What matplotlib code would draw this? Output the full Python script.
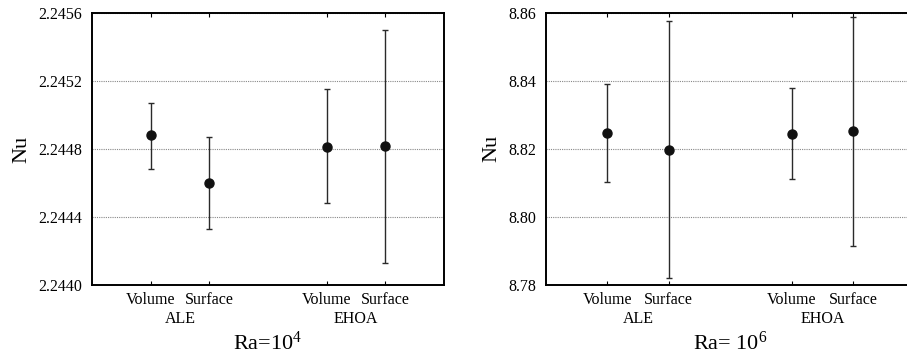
import numpy as np
import matplotlib
matplotlib.use("Agg")
import matplotlib.pyplot as plt
import matplotlib.transforms as mtransforms

plt.rcParams['font.family'] = ['Liberation Serif', 'DejaVu Serif']
plt.rcParams['mathtext.fontset'] = 'custom'
plt.rcParams['mathtext.rm'] = 'Liberation Serif'
plt.rcParams['mathtext.it'] = 'Liberation Serif:italic'

# x positions of the four estimates, two per method
methods = ["ALE", "EHOA"]
estimators = ["Volume", "Surface", "Volume", "Surface"]
xpos = [1, 2, 4, 5]

# Ra = 1e4
nu_ra4 = [2.24488, 2.24460, 2.24481, 2.24482]
lo_ra4 = [2.24468, 2.24433, 2.24448, 2.24413]
hi_ra4 = [2.24507, 2.24487, 2.24515, 2.24550]
yticks_ra4 = [2.2440, 2.2444, 2.2448, 2.2452, 2.2456]

# Ra = 1e6
nu_ra6 = [8.8247, 8.8196, 8.8245, 8.8252]
lo_ra6 = [8.8103, 8.7820, 8.8111, 8.7916]
hi_ra6 = [8.8391, 8.8575, 8.8380, 8.8588]
yticks_ra6 = [8.78, 8.80, 8.82, 8.84, 8.86]

fig = plt.figure(figsize=(9.07, 3.56), dpi=100)
ax1 = fig.add_axes([92 / 907, 1 - 285 / 356, 352 / 907, 272 / 356])
ax2 = fig.add_axes([546 / 907, 1 - 285 / 356, 368.4 / 907, 272.3 / 356])


def panel(ax, nu, lo, hi, yticks, fmt, xlabel):
    nu = np.array(nu)
    err = [nu - np.array(lo), np.array(hi) - nu]
    ax.errorbar(xpos, nu, yerr=err, fmt='o', color='#111111', ecolor='#2a2a2a',
                elinewidth=1.0, capsize=2.5, capthick=1.0, markersize=6.5, zorder=3)
    ax.set_xlim(0, 6)
    ax.set_ylim(yticks[0], yticks[-1])
    ax.set_yticks(yticks)
    ax.set_yticklabels([fmt % v for v in yticks])
    ax.set_xticks(xpos)
    ax.set_xticklabels(estimators)
    ax.tick_params(axis='y', length=0, pad=7, labelsize=11.5)
    ax.tick_params(axis='x', direction='in', length=3, width=0.8, top=True,
                   pad=5, labelsize=11.5)
    ax.grid(axis='y', linestyle=(0, (1, 1)), color='#888888', linewidth=0.8)
    for s in ax.spines.values():
        s.set_linewidth(1.4)
    ax.set_ylabel("Nu", fontsize=16, labelpad=5)
    trans = mtransforms.blended_transform_factory(ax.transData, ax.transAxes)
    for m, xc in zip(methods, [1.5, 4.5]):
        ax.text(xc, -0.125, m, transform=trans, ha='center', va='center', fontsize=11.5)
    ax.text(0.5, -0.215, xlabel, transform=ax.transAxes, ha='center', va='center',
            fontsize=16)


panel(ax1, nu_ra4, lo_ra4, hi_ra4, yticks_ra4, "%.4f", r"Ra=10$^{4}$")
panel(ax2, nu_ra6, lo_ra6, hi_ra6, yticks_ra6, "%.2f", r"Ra= 10$^{6}$")

fig.savefig("out.png", dpi=100)
